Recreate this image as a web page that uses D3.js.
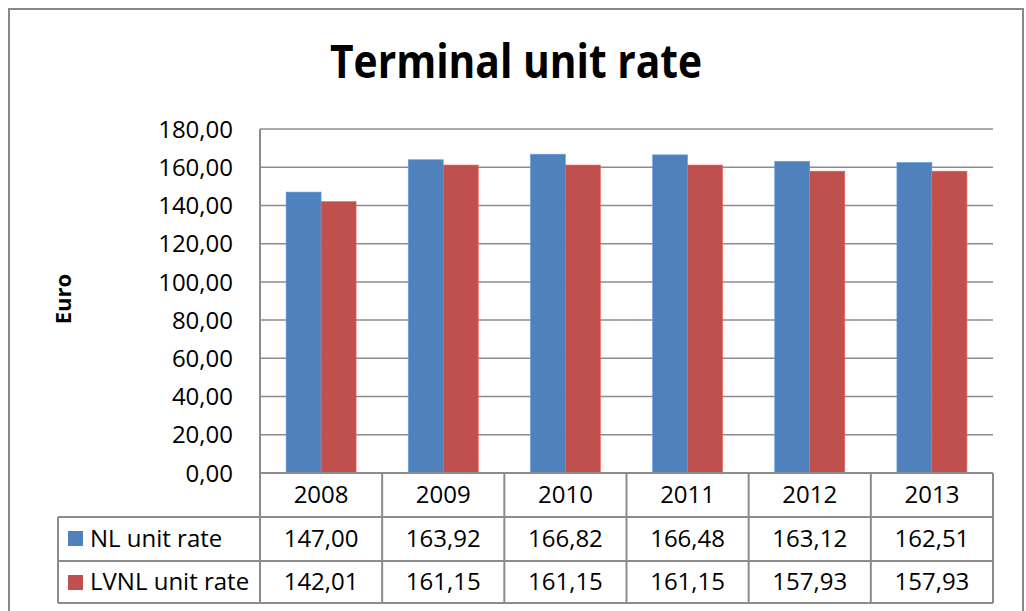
<!DOCTYPE html>
<html>
<head>
<meta charset="utf-8">
<script src="https://cdn.jsdelivr.net/npm/d3@7"></script>
<style>
  body { margin: 0; background: #fff; }
  text { font-family: "Open Sans", sans-serif; fill: #000; }
</style>
</head>
<body>
<script>
const years = ["2008", "2009", "2010", "2011", "2012", "2013"];
const seriesNames = ["NL unit rate", "LVNL unit rate"];
const nlRate = [147.00, 163.92, 166.82, 166.48, 163.12, 162.51];
const lvnlRate = [142.01, 161.15, 161.15, 161.15, 157.93, 157.93];
const yTicks = [0, 20, 40, 60, 80, 100, 120, 140, 160, 180];
const colors = ["#4F81BD", "#C0504D"];

const width = 1026;
const height = 611;
const plotLeft = 260, plotRight = 993, plotTop = 129, plotBottom = 473;
const tableLeft = 58;
const rowLines = [517, 561, 603];
const gridColor = "#8c8c8c";

const fmt = v => d3.format(".2f")(v).replace(".", ",");

const svg = d3.select("body").append("svg")
  .attr("width", width)
  .attr("height", height);

// outer chart border
svg.append("rect")
  .attr("x", 9).attr("y", 9)
  .attr("width", 1014).attr("height", 640)
  .attr("fill", "#fff")
  .attr("stroke", "#898989")
  .attr("stroke-width", 2);

svg.append("text")
  .attr("x", 516).attr("y", 78)
  .attr("text-anchor", "middle")
  .attr("font-size", 46)
  .attr("font-weight", "bold")
  .attr("textLength", 372)
  .attr("lengthAdjust", "spacingAndGlyphs")
  .text("Terminal unit rate");

const x = d3.scaleBand().domain(years).range([plotLeft, plotRight]);
const xInner = d3.scaleBand().domain(seriesNames).range([0, x.bandwidth()]).paddingOuter(0.745);
const y = d3.scaleLinear().domain([0, 180]).range([plotBottom, plotTop]);

// gridlines
svg.append("g").selectAll("line")
  .data(yTicks.filter(d => d > 0))
  .join("line")
  .attr("x1", plotLeft).attr("x2", plotRight)
  .attr("y1", d => y(d)).attr("y2", d => y(d))
  .attr("stroke", gridColor)
  .attr("stroke-width", 1.5);

// y axis labels
svg.append("g").selectAll("text")
  .data(yTicks)
  .join("text")
  .attr("x", 233)
  .attr("y", d => y(d))
  .attr("dy", "0.36em")
  .attr("text-anchor", "end")
  .attr("font-size", 24)
  .text(fmt);

svg.append("text")
  .attr("transform", "translate(71,299) rotate(-90)")
  .attr("text-anchor", "middle")
  .attr("font-size", 22)
  .attr("font-weight", "bold")
  .text("Euro");

// bars
const series = [nlRate, lvnlRate];
series.forEach((vals, si) => {
  svg.append("g").selectAll("rect")
    .data(vals)
    .join("rect")
    .attr("x", (d, i) => x(years[i]) + xInner(seriesNames[si]))
    .attr("width", xInner.bandwidth())
    .attr("y", d => y(d))
    .attr("height", d => y(0) - y(d))
    .attr("fill", colors[si])
    .attr("stroke", d3.color(colors[si]).brighter(0.6))
    .attr("stroke-width", 0.6);
});

// data table
const tbl = svg.append("g")
  .attr("stroke", gridColor)
  .attr("stroke-width", 2);

tbl.append("line")
  .attr("x1", plotLeft).attr("x2", plotRight)
  .attr("y1", plotBottom).attr("y2", plotBottom);
rowLines.forEach(ry => {
  tbl.append("line")
    .attr("x1", tableLeft).attr("x2", plotRight)
    .attr("y1", ry).attr("y2", ry);
});
tbl.append("line")
  .attr("x1", tableLeft).attr("x2", tableLeft)
  .attr("y1", rowLines[0]).attr("y2", rowLines[2]);
tbl.append("line")
  .attr("x1", plotLeft).attr("x2", plotLeft)
  .attr("y1", plotTop).attr("y2", rowLines[2]);
years.forEach(yr => {
  const xr = x(yr) + x.bandwidth();
  tbl.append("line")
    .attr("x1", xr).attr("x2", xr)
    .attr("y1", plotBottom).attr("y2", rowLines[2]);
});

// header years
svg.append("g").selectAll("text")
  .data(years)
  .join("text")
  .attr("x", d => x(d) + x.bandwidth() / 2)
  .attr("y", 503)
  .attr("text-anchor", "middle")
  .attr("font-size", 24)
  .text(d => d);

const rowBase = [547, 590];
series.forEach((vals, si) => {
  svg.append("g").selectAll("text")
    .data(vals)
    .join("text")
    .attr("x", (d, i) => x(years[i]) + x.bandwidth() / 2)
    .attr("y", rowBase[si])
    .attr("text-anchor", "middle")
    .attr("font-size", 24)
    .text(fmt);

  svg.append("rect")
    .attr("x", 68)
    .attr("y", rowLines[si] + 14)
    .attr("width", 15).attr("height", 15)
    .attr("fill", colors[si]);

  svg.append("text")
    .attr("x", 90)
    .attr("y", rowBase[si])
    .attr("font-size", 24)
    .text(seriesNames[si]);
});
</script>
</body>
</html>
